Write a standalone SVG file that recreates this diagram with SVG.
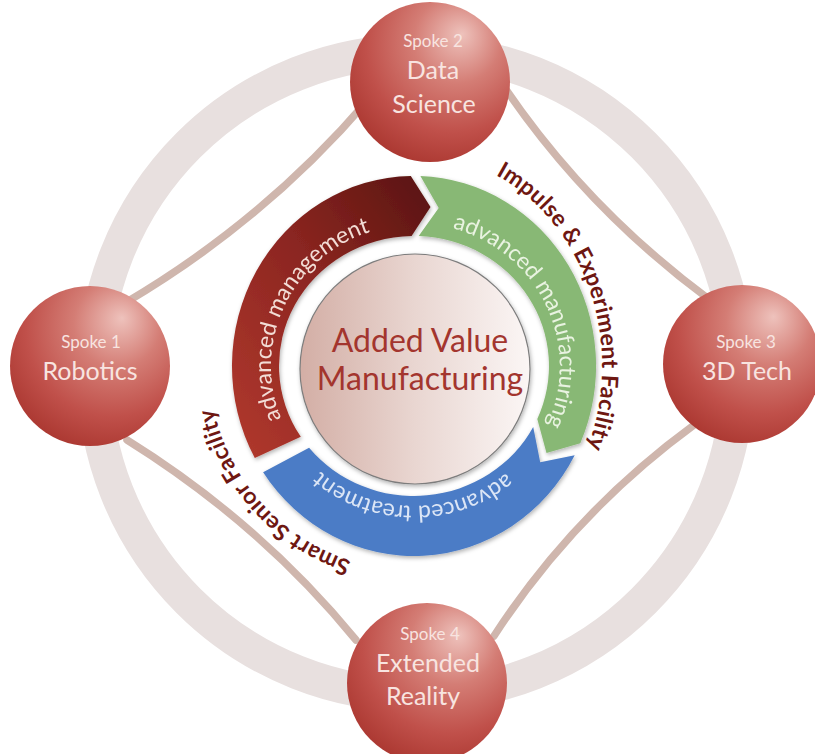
<svg xmlns="http://www.w3.org/2000/svg" width="815" height="754" viewBox="0 0 815 754">
<defs>
  <radialGradient id="sph" cx="0.62" cy="0.3" r="0.78" fx="0.7" fy="0.2">
    <stop offset="0" stop-color="#eec2bc"/>
    <stop offset="0.35" stop-color="#d47d75"/>
    <stop offset="0.7" stop-color="#c0504a"/>
    <stop offset="1" stop-color="#a8342d"/>
  </radialGradient>
  <linearGradient id="core" x1="0" y1="0" x2="1" y2="0">
    <stop offset="0" stop-color="#d3aea5"/>
    <stop offset="0.5" stop-color="#e9d6d1"/>
    <stop offset="1" stop-color="#fbf6f5"/>
  </linearGradient>
  <linearGradient id="redg" x1="0" y1="1" x2="1" y2="0">
    <stop offset="0" stop-color="#b2392e"/>
    <stop offset="0.55" stop-color="#8a2520"/>
    <stop offset="1" stop-color="#581410"/>
  </linearGradient>
  <filter id="sh" x="-20%" y="-20%" width="140%" height="140%">
    <feDropShadow dx="1" dy="2" stdDeviation="2" flood-color="#000" flood-opacity="0.3"/>
  </filter>
  <path id="tpRed" d="M332.0,481.5 A143,141 0 0 1 451.0,229.8"/>
  <path id="tpGreen" d="M376.2,227.9 A146,143 0 0 1 497.7,483.1"/>
  <path id="tpBlue" d="M554.6,391.5 A143,140 0 0 1 273.0,389.1"/>
  <path id="tpIEF" d="M374.9,158.6 A188,212 0 0 1 513.6,545.8"/>
  <path id="tpSSF" d="M522.6,539.8 A205,205 0 0 1 252.5,239.8"/>
</defs>
<style>
  .ring { fill: none; stroke: #e8e0df; stroke-width: 34; }
  .conn { fill: none; stroke: #cfb6ad; stroke-width: 7.5; stroke-linecap: round; }
  .sphere { fill: url(#sph); }
  .sk { font-family: Lato, "Open Sans", sans-serif; font-size: 17px; fill: #f8e4e0; text-anchor: middle; }
  .st { font-family: Lato, "Open Sans", sans-serif; font-size: 25px; fill: #f8e4e0; text-anchor: middle; }
  .arr { font-family: Lato, "Open Sans", sans-serif; font-size: 23px; }
  .fac { font-family: Lato, "Open Sans", sans-serif; font-size: 23px; font-weight: bold; fill: #6e1712; letter-spacing: 0.3px; }
  .ctr { font-family: Lato, "Open Sans", sans-serif; font-size: 32px; fill: #a3352e; text-anchor: middle; }
</style>
<rect width="815" height="754" fill="#ffffff"/>
<g id="outer-ring">
  <circle class="ring" cx="416" cy="373" r="322"/>
</g>
<g id="connectors">
  <path class="conn" d="M125,303 Q264.4,220.9 368,100"/>
  <path class="conn" d="M505,88 Q587.7,209.4 710,300"/>
  <path class="conn" d="M694,425 Q574,512.8 494,636"/>
  <path class="conn" d="M356,640 Q260.2,523 127,440"/>
</g>
<g id="cycle">
  <g id="arrow-management" filter="url(#sh)">
    <path d="M254.8,458.1 A182,190 0 0 1 410.8,176.0 L430.5,206.9 L411.6,236.0 A135,130 0 0 0 300.8,436.8 Z" fill="url(#redg)"/>
    <text class="arr" fill="#f3ddd6"><textPath href="#tpRed" startOffset="50%" text-anchor="middle">advanced management</textPath></text>
  </g>
  <g id="arrow-manufacturing" filter="url(#sh)">
    <path d="M420.4,176.1 A182,190 0 0 1 580.3,443.3 L546.5,453.1 L537.3,418.9 A135,130 0 0 0 418.7,236.1 L438.7,208.0 Z" fill="#88b874"/>
    <text class="arr" fill="#e9f3e1"><textPath href="#tpGreen" startOffset="50%" text-anchor="middle">advanced manufacturing</textPath></text>
  </g>
  <g id="arrow-treatment" filter="url(#sh)">
    <path d="M574.7,455.2 A182,190 0 0 1 263.1,472.2 L309.1,447.8 A135,130 0 0 0 533.2,427.0 L540.2,462.3 Z" fill="#4b7cc6"/>
    <text class="arr" fill="#dce6f6"><textPath href="#tpBlue" startOffset="50%" text-anchor="middle">advanced treatment</textPath></text>
  </g>
</g>
<g id="center-node">
  <circle cx="415" cy="369" r="115" fill="url(#core)" stroke="#7d7d7d" stroke-width="1.2" filter="url(#sh)"/>
  <text class="ctr" x="420" y="352">Added Value</text>
  <text class="ctr" x="420" y="390">Manufacturing</text>
</g>
<g id="spoke1">
  <circle class="sphere" cx="90" cy="366" r="80"/>
  <text class="sk" x="91" y="348">Spoke 1</text>
  <text class="st" x="90" y="380">Robotics</text>
</g>
<g id="spoke2">
  <circle class="sphere" cx="430" cy="82" r="80"/>
  <text class="sk" x="433" y="47">Spoke 2</text>
  <text class="st" x="433" y="79">Data</text>
  <text class="st" x="434" y="113">Science</text>
</g>
<g id="spoke3">
  <circle class="sphere" cx="742" cy="364" r="79"/>
  <text class="sk" x="746" y="348">Spoke 3</text>
  <text class="st" x="747" y="380">3D Tech</text>
</g>
<g id="spoke4">
  <circle class="sphere" cx="427" cy="683" r="80"/>
  <text class="sk" x="430" y="640">Spoke 4</text>
  <text class="st" x="428" y="672">Extended</text>
  <text class="st" x="423" y="705">Reality</text>
</g>
<g id="facility-labels">
  <text class="fac"><textPath href="#tpIEF" startOffset="50%" text-anchor="middle">Impulse &amp; Experiment Facility</textPath></text>
  <text class="fac"><textPath href="#tpSSF" startOffset="50%" text-anchor="middle">Smart Senior Facility</textPath></text>
</g>
</svg>
